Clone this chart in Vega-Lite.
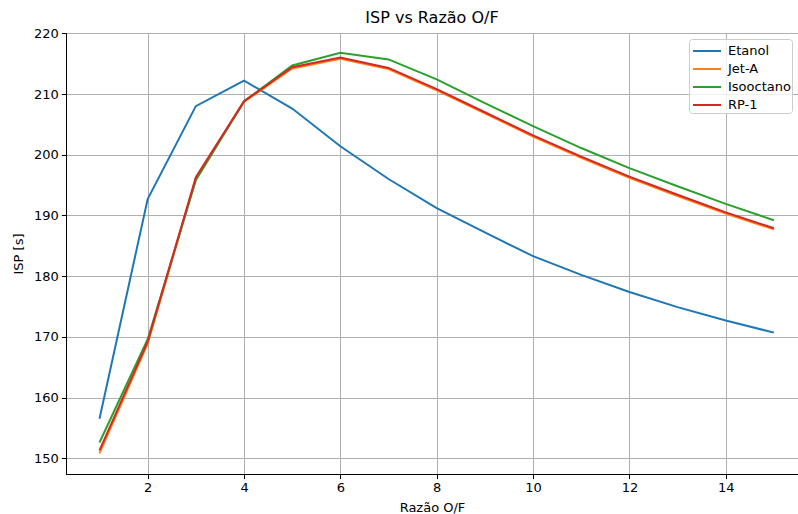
{
  "$schema": "https://vega.github.io/schema/vega-lite/v6.json",
  "autosize": "none",
  "width": 732,
  "height": 441,
  "padding": {"left": 66, "top": 33, "right": 0, "bottom": 40},
  "title": {"text": "ISP vs Razão O/F", "fontSize": 16, "fontWeight": "normal", "font": "DejaVu Sans", "color": "black", "offset": 1, "anchor": "middle"},
  "config": {
    "font": "DejaVu Sans",
    "view": {"stroke": "black", "strokeWidth": 1},
    "axis": {
      "labelFont": "DejaVu Sans", "labelFontSize": 13, "labelColor": "black",
      "titleFont": "DejaVu Sans", "titleFontSize": 13, "titleFontWeight": "normal", "titleColor": "black",
      "domainColor": "black", "domainWidth": 1,
      "tickColor": "black", "tickWidth": 1, "tickSize": 4.6,
      "gridColor": "#b0b0b0", "gridWidth": 1, "gridOpacity": 1,
      "labelPadding": 3
    }
  },
  "data": {"values": [
    {"of": 1, "fuel": "Etanol", "isp": 156.5},
    {"of": 2, "fuel": "Etanol", "isp": 192.7},
    {"of": 3, "fuel": "Etanol", "isp": 208.0},
    {"of": 4, "fuel": "Etanol", "isp": 212.2},
    {"of": 5, "fuel": "Etanol", "isp": 207.6},
    {"of": 6, "fuel": "Etanol", "isp": 201.4},
    {"of": 7, "fuel": "Etanol", "isp": 196.0},
    {"of": 8, "fuel": "Etanol", "isp": 191.2},
    {"of": 9, "fuel": "Etanol", "isp": 187.2},
    {"of": 10, "fuel": "Etanol", "isp": 183.3},
    {"of": 11, "fuel": "Etanol", "isp": 180.2},
    {"of": 12, "fuel": "Etanol", "isp": 177.4},
    {"of": 13, "fuel": "Etanol", "isp": 174.9},
    {"of": 14, "fuel": "Etanol", "isp": 172.7},
    {"of": 15, "fuel": "Etanol", "isp": 170.7},
    {"of": 1, "fuel": "Jet-A", "isp": 150.8},
    {"of": 2, "fuel": "Jet-A", "isp": 168.9},
    {"of": 3, "fuel": "Jet-A", "isp": 196.0},
    {"of": 4, "fuel": "Jet-A", "isp": 208.7},
    {"of": 5, "fuel": "Jet-A", "isp": 214.2},
    {"of": 6, "fuel": "Jet-A", "isp": 215.8},
    {"of": 7, "fuel": "Jet-A", "isp": 214.1},
    {"of": 8, "fuel": "Jet-A", "isp": 210.6},
    {"of": 9, "fuel": "Jet-A", "isp": 206.8},
    {"of": 10, "fuel": "Jet-A", "isp": 203.0},
    {"of": 11, "fuel": "Jet-A", "isp": 199.5},
    {"of": 12, "fuel": "Jet-A", "isp": 196.2},
    {"of": 13, "fuel": "Jet-A", "isp": 193.2},
    {"of": 14, "fuel": "Jet-A", "isp": 190.3},
    {"of": 15, "fuel": "Jet-A", "isp": 187.7},
    {"of": 1, "fuel": "Isooctano", "isp": 152.6},
    {"of": 2, "fuel": "Isooctano", "isp": 169.6},
    {"of": 3, "fuel": "Isooctano", "isp": 195.8},
    {"of": 4, "fuel": "Isooctano", "isp": 208.8},
    {"of": 5, "fuel": "Isooctano", "isp": 214.7},
    {"of": 6, "fuel": "Isooctano", "isp": 216.8},
    {"of": 7, "fuel": "Isooctano", "isp": 215.7},
    {"of": 8, "fuel": "Isooctano", "isp": 212.4},
    {"of": 9, "fuel": "Isooctano", "isp": 208.5},
    {"of": 10, "fuel": "Isooctano", "isp": 204.7},
    {"of": 11, "fuel": "Isooctano", "isp": 201.1},
    {"of": 12, "fuel": "Isooctano", "isp": 197.8},
    {"of": 13, "fuel": "Isooctano", "isp": 194.8},
    {"of": 14, "fuel": "Isooctano", "isp": 191.9},
    {"of": 15, "fuel": "Isooctano", "isp": 189.2},
    {"of": 1, "fuel": "RP-1", "isp": 151.3},
    {"of": 2, "fuel": "RP-1", "isp": 169.2},
    {"of": 3, "fuel": "RP-1", "isp": 196.3},
    {"of": 4, "fuel": "RP-1", "isp": 208.8},
    {"of": 5, "fuel": "RP-1", "isp": 214.4},
    {"of": 6, "fuel": "RP-1", "isp": 216.0},
    {"of": 7, "fuel": "RP-1", "isp": 214.3},
    {"of": 8, "fuel": "RP-1", "isp": 210.8},
    {"of": 9, "fuel": "RP-1", "isp": 207.0},
    {"of": 10, "fuel": "RP-1", "isp": 203.2},
    {"of": 11, "fuel": "RP-1", "isp": 199.7},
    {"of": 12, "fuel": "RP-1", "isp": 196.4},
    {"of": 13, "fuel": "RP-1", "isp": 193.4},
    {"of": 14, "fuel": "RP-1", "isp": 190.5},
    {"of": 15, "fuel": "RP-1", "isp": 187.9}
  ]},
  "mark": {"type": "line", "strokeWidth": 2, "clip": true},
  "encoding": {
    "x": {
      "field": "of", "type": "quantitative", "title": "Razão O/F",
      "scale": {"domain": [0.3046, 15.5], "nice": false, "zero": false},
      "axis": {"values": [2, 4, 6, 8, 10, 12, 14], "titlePadding": 7}
    },
    "y": {
      "field": "isp", "type": "quantitative", "title": "ISP [s]",
      "scale": {"domain": [147.41, 220.05], "nice": false, "zero": false},
      "axis": {"values": [150, 160, 170, 180, 190, 200, 210, 220], "titlePadding": 8}
    },
    "color": {
      "field": "fuel", "type": "nominal",
      "scale": {"domain": ["Etanol", "Jet-A", "Isooctano", "RP-1"], "range": ["#1f77b4", "#ff7f0e", "#2ca02c", "#d62728"]},
      "legend": {
        "title": null, "orient": "none", "legendX": 623, "legendY": 6,
        "fillColor": "rgba(255,255,255,0.8)", "strokeColor": "#cccccc", "cornerRadius": 3,
        "padding": 1, "symbolType": "M-1.4,0H1.4", "symbolSize": 400, "symbolStrokeWidth": 2, "symbolOffset": 6,
        "labelFont": "DejaVu Sans", "labelFontSize": 13, "labelColor": "black", "labelOffset": 10,
        "rowPadding": 0, "labelLimit": 200
      }
    }
  }
}
